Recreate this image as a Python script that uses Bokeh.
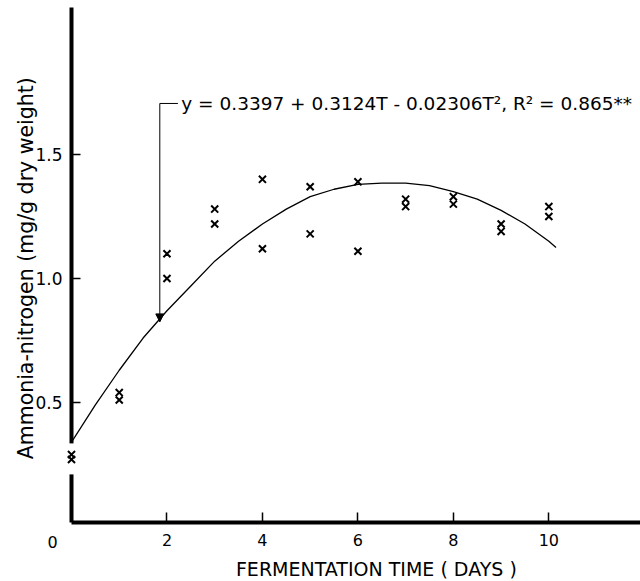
from bokeh.plotting import figure
from bokeh.models import Range1d, FixedTicker, Arrow, NormalHead, ColumnDataSource, PrintfTickFormatter, Label
from bokeh.embed import file_html
from bokeh.resources import INLINE
from bokeh.core.properties import value

# ---- data ----
days = [0, 1, 2, 3, 4, 5, 6, 7, 8, 9, 10]
nh3_rep1 = [0.29, 0.54, 1.10, 1.28, 1.40, 1.37, 1.39, 1.32, 1.33, 1.22, 1.29]
nh3_rep2 = [0.27, 0.51, 1.00, 1.22, 1.12, 1.18, 1.11, 1.29, 1.30, 1.19, 1.25]

curve_t = [0, 0.5, 1, 1.5, 2, 2.5, 3, 3.5, 4, 4.5, 5, 5.5, 6, 6.5, 7, 7.5, 8, 8.5, 9, 9.5, 10, 10.15]
curve_y = [0.34, 0.49, 0.63, 0.76, 0.87, 0.97, 1.07, 1.15, 1.22, 1.28, 1.33, 1.36, 1.38, 1.385, 1.385,
           1.375, 1.35, 1.32, 1.275, 1.22, 1.15, 1.125]

x_ticks = [2, 4, 6, 8, 10]
y_ticks = [0.5, 1.0, 1.5]
x_title = "FERMENTATION  TIME ( DAYS )"
y_title = "Ammonia-nitrogen (mg/g  dry weight)"
equation = "y =  0.3397 + 0.3124T - 0.02306T\u00b2, R\u00b2 = 0.865**"
eq_anchor = (1.85, 1.706)      # bracket corner
eq_arrow_tip = (1.85, 0.825)   # arrow points to fitted curve
axis_gap = (0.21, 0.335)       # break in y axis line

FONT = "DejaVu Sans"

p = figure(width=640, height=580,
           x_range=Range1d(0, 11.92), y_range=Range1d(0.016, 2.093),
           output_backend="svg", toolbar_location=None,
           min_border_left=71, min_border_right=0, min_border_top=7, min_border_bottom=58)
p.grid.visible = False
p.outline_line_color = None
p.background_fill_color = "white"
p.border_fill_color = "white"

# x axis
xa = p.xaxis[0]
xa.ticker = FixedTicker(ticks=x_ticks)
xa.axis_line_width = 4
xa.axis_line_color = "black"
xa.major_tick_in = 10
xa.major_tick_out = 0
xa.major_tick_line_width = 1.5
xa.minor_tick_line_color = None
xa.major_label_text_font = FONT
xa.major_label_text_font_size = "16px"
xa.major_label_text_color = "black"
xa.major_label_standoff = 11

# y axis
ya = p.yaxis[0]
ya.ticker = FixedTicker(ticks=y_ticks)
ya.formatter = PrintfTickFormatter(format="%.1f")
ya.axis_line_width = 4
ya.axis_line_color = "black"
ya.major_tick_in = 9
ya.major_tick_out = 0
ya.major_tick_line_width = 1.5
ya.minor_tick_line_color = None
ya.major_label_text_font = FONT
ya.major_label_text_font_size = "17px"
ya.major_label_text_color = "black"
ya.major_label_standoff = 9
ya.axis_label = y_title
ya.axis_label_text_font = FONT
ya.axis_label_text_font_size = "20.5px"
ya.axis_label_text_font_style = "normal"
ya.axis_label_text_color = "black"
ya.axis_label_standoff = -6

# fitted curve
p.line(curve_t, curve_y, line_color="black", line_width=1.3)

# break in the y axis line
p.segment(x0=[0], y0=[axis_gap[0]], x1=[0], y1=[axis_gap[1]], line_color="white",
          line_width=7, level="overlay")

# observations
src = ColumnDataSource(dict(d=days + days, v=nh3_rep1 + nh3_rep2))
p.scatter("d", "v", source=src, marker="x", size=10, line_color="black", line_width=2,
          level="overlay")

# equation annotation: bracket + arrow
p.segment(x0=[eq_anchor[0]], y0=[eq_anchor[1]], x1=[eq_anchor[0] + 0.38], y1=[eq_anchor[1]],
          line_color="black", line_width=1)
p.add_layout(Arrow(x_start=eq_anchor[0], y_start=eq_anchor[1],
                   x_end=eq_arrow_tip[0], y_end=eq_arrow_tip[1],
                   line_color="black", line_width=1,
                   end=NormalHead(size=8, fill_color="black", line_color="black")))
p.add_layout(Label(x=eq_anchor[0] + 0.45, y=eq_anchor[1], text=equation,
                   text_font=FONT, text_font_size="18.5px", text_baseline="middle",
                   text_color="black"))

# "0" tick label (set left of the axis) and x title, drawn outside the frame
p.text(x=[0], y=[-0.061], text=["0"], x_offset=-19, text_font=value(FONT),
       text_font_size="16px", text_align="center", text_baseline="middle",
       text_color="black", level="overlay")
p.text(x=[6.45], y=[-0.17], text=[x_title], text_font=value(FONT),
       text_font_size="19px", text_align="center", text_baseline="middle",
       text_color="black", level="overlay")

open("out.html", "w").write(file_html(p, INLINE))
